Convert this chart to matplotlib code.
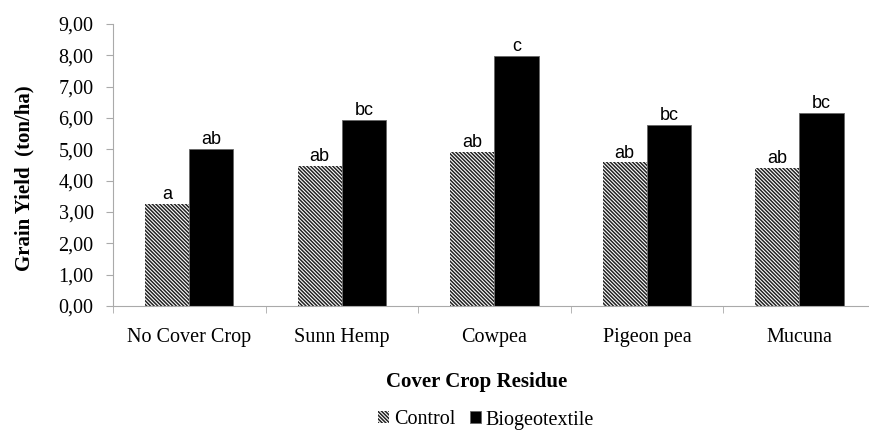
import numpy as np
import matplotlib.pyplot as plt
from matplotlib import rcParams

rcParams['hatch.linewidth'] = 1.1

# data
crops = ['No Cover Crop', 'Sunn Hemp', 'Cowpea', 'Pigeon pea', 'Mucuna']
control = [3.26, 4.47, 4.92, 4.58, 4.41]
biogeo = [5.02, 5.94, 7.99, 5.78, 6.17]
control_letters = ['a', 'ab', 'ab', 'ab', 'ab']
biogeo_letters = ['ab', 'bc', 'c', 'bc', 'bc']
yticks = np.arange(0, 9.01, 1.0)

serif = 'Liberation Serif'
sans = 'Liberation Sans'

fig = plt.figure(figsize=(8.69, 4.30), dpi=100)
ax = fig.add_axes([113 / 869, 1 - 306 / 430, (868 - 113) / 869, (306 - 24) / 430])

x = np.arange(len(crops))
w = 0.29
b1 = ax.bar(x - w / 2, control, w, color='white', edgecolor='#222222',
            hatch='\\' * 9, linewidth=0, label='Control')
b2 = ax.bar(x + w / 2, biogeo, w, color='black', edgecolor='#666666',
            linewidth=0.6, label='Biogeotextile')

for xi, v, t in zip(x - w / 2, control, control_letters):
    ax.text(xi, v + 0.15, t, ha='center', va='baseline', fontsize=13, family=sans)
for xi, v, t in zip(x + w / 2, biogeo, biogeo_letters):
    ax.text(xi, v + 0.15, t, ha='center', va='baseline', fontsize=13, family=sans)

ax.set_xlim(-0.5, 4.45)
ax.set_ylim(0, 9)
ax.set_yticks(yticks)
ax.set_yticklabels(['{:.2f}'.format(v).replace('.', ',') for v in yticks],
                   family=serif, fontsize=14.5)
ax.set_xticks(x)
ax.set_xticklabels(crops, family=serif, fontsize=14.5)
ax.set_xticks(np.arange(-0.5, 4.5, 1.0), minor=True)
ax.tick_params(axis='x', which='major', length=0, pad=16)
ax.tick_params(axis='x', which='minor', length=5, color='#aaaaaa', direction='out')
ax.tick_params(axis='y', length=5, color='#aaaaaa', direction='out', pad=9)

for s in ['top', 'right']:
    ax.spines[s].set_visible(False)
for s in ['left', 'bottom']:
    ax.spines[s].set_color('#aaaaaa')

ax.set_ylabel('Grain Yield  (ton/ha)', family=serif, fontsize=15,
              fontweight='bold')
ax.yaxis.label.set_va('center')
ax.yaxis.set_label_coords(-(113 - 24) / 755, (306 - 178) / 282)
ax.set_xlabel('Cover Crop Residue', family=serif, fontsize=15,
              fontweight='bold')
ax.xaxis.set_label_coords((477 - 113) / 755, -(382 - 306) / 282)
ax.xaxis.label.set_va('center')

fig.legend(handles=[b1, b2], loc='center', bbox_to_anchor=(486 / 869, 1 - 420 / 430),
           ncol=2, frameon=False, prop={'family': serif, 'size': 14.5},
           handlelength=0.55, handleheight=0.55, handletextpad=0.25, columnspacing=0.7)

fig.savefig('out.png', dpi=100)
plt.close(fig)
